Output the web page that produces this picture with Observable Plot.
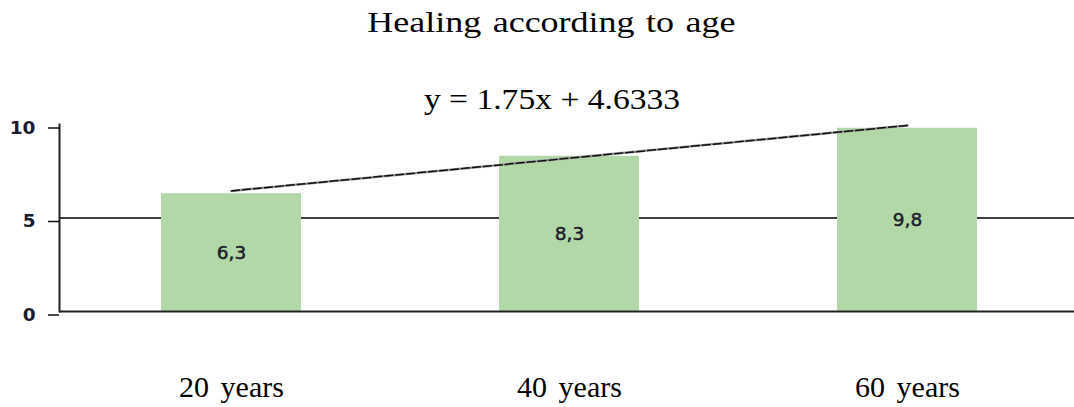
<!DOCTYPE html>
<html>
<head>
<meta charset="utf-8">
<script src="https://cdn.jsdelivr.net/npm/d3@7"></script>
<script src="https://cdn.jsdelivr.net/npm/@observablehq/plot@0.6"></script>
<style>
  html, body { margin: 0; padding: 0; background: #fff; }
  #title {
    width: 1074px; height: 58px; padding-top: 2px;
    font-family: "Liberation Serif", "Times New Roman", serif;
    font-size: 30px; line-height: 40px; text-align: center;
    color: #000; position: relative; left: 14px;
  }
  #title span { display: inline-block; transform: scaleX(1.2); word-spacing: 2px; }
  #chart svg { display: block; }
  g[aria-label="x-axis tick label"] text { word-spacing: 4px; }
</style>
</head>
<body>
<div id="title"><span></span></div>
<div id="chart"></div>
<script>
const titleText = "Healing according to age";
const equationText = ["y = 1.75x + 4.6333"];
const categories = ["20 years", "40 years", "60 years"];
const values = [6.3, 8.3, 9.8];
const valueLabels = ["6,3", "8,3", "9,8"];
const trendCategories = ["20 years", "60 years"];
const trendValues = [6.45, 9.95];
const yTicks = [0, 5, 10];

document.querySelector("#title span").textContent = titleText;

const bars = categories.map((c, i) => ({category: c, value: values[i], label: valueLabels[i]}));
const trend = trendCategories.map((c, i) => ({category: c, value: trendValues[i]}));

const chart = Plot.plot({
  width: 1074,
  height: 347,
  marginTop: 64,
  marginBottom: 96,
  marginLeft: 59,
  marginRight: 0,
  style: {background: "#fff", overflow: "visible"},
  x: {domain: categories, range: [59, 1078], paddingInner: 0.586, paddingOuter: 0.3, label: null},
  y: {domain: [0, 10], label: null},
  marks: [
    Plot.ruleY([5], {stroke: "#000", strokeWidth: 1.5}),
    Plot.barY(bars, {x: "category", y: "value", fill: "#b2d8a8"}),
    Plot.ruleY([0], {stroke: "#222", strokeWidth: 2}),
    Plot.frame({anchor: "left", stroke: "#222", strokeWidth: 2}),
    Plot.line(trend, {x: "category", y: "value", stroke: "#9a9a9a", strokeWidth: 2.5}),
    Plot.line(trend, {x: "category", y: "value", stroke: "#111", strokeWidth: 1.5, strokeDasharray: "8,3"}),
    Plot.text(bars, {x: "category", y: d => d.value / 2, text: "label",
      fontSize: 18.5, fontFamily: "DejaVu Sans", fill: "#1c1c2c",
      stroke: "#1c1c2c", strokeWidth: 0.5}),
    Plot.text(equationText, {frameAnchor: "top", text: d => d, lineAnchor: "bottom",
      dx: -15, dy: -16, fontSize: 30, fontFamily: "Liberation Serif", fill: "#000"}),
    Plot.axisY({ticks: yTicks, tickSize: 11, tickPadding: 13, stroke: "#111", strokeWidth: 1.5,
      fontSize: 18.5, fontWeight: "bold", fontFamily: "DejaVu Sans", fill: "#1a1a2e", dy: 3.5, label: null}),
    Plot.axisX({tickSize: 0, tickPadding: 64, fontSize: 30, fontFamily: "Liberation Serif",
      fill: "#000", label: null})
  ]
});
// widen the equation label horizontally, around its own anchor point
d3.select(chart).selectAll("text")
  .filter(function() { return this.textContent === equationText[0]; })
  .each(function() {
    const x = +(this.getAttribute("x") || 0);
    const y = +(this.getAttribute("y") || 0);
    const t = this.getAttribute("transform") || "";
    this.setAttribute("transform", `${t} translate(${x},${y}) scale(1.12,1) translate(${-x},${-y})`);
  });
document.getElementById("chart").appendChild(chart);
</script>
</body>
</html>
